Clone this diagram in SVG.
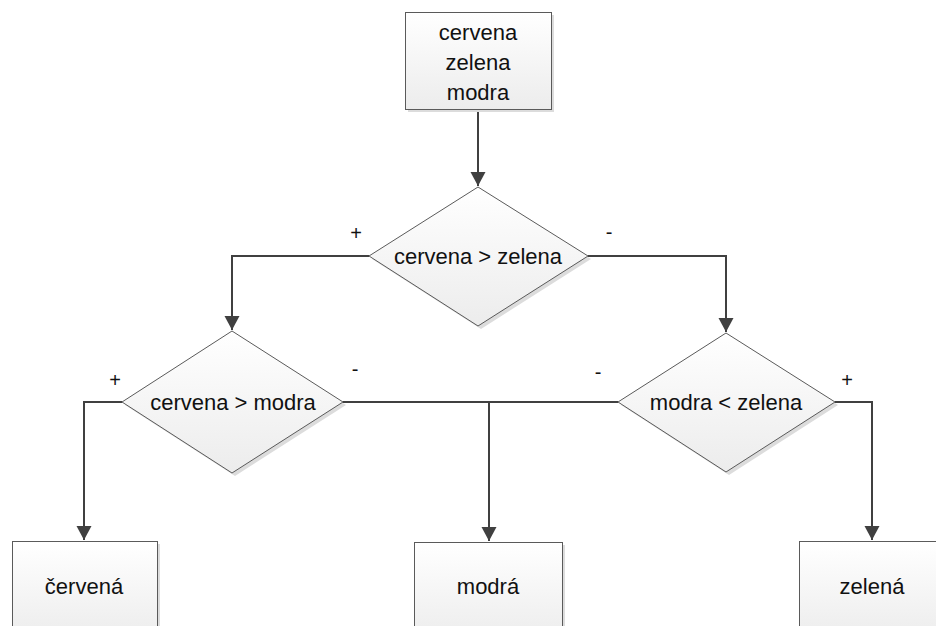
<svg xmlns="http://www.w3.org/2000/svg" width="936" height="626" viewBox="0 0 936 626">
  <style>
    .shape { stroke: #5a5a5a; stroke-width: 1; fill: url(#fillGrad); }
    .shadow { fill: #dcdcdc; stroke: none; }
    .label { font-family: "Liberation Sans", Arial, sans-serif; font-size: 22px; fill: #111; text-anchor: middle; }
    .sign { font-family: "Liberation Sans", Arial, sans-serif; font-size: 20px; fill: #111; text-anchor: middle; }
    .conn { fill: none; stroke: #404040; stroke-width: 2; }
  </style>
  <defs>
    <linearGradient id="fillGrad" x1="0" y1="0" x2="0" y2="1">
      <stop offset="0" stop-color="#ffffff"/>
      <stop offset="1" stop-color="#ececec"/>
    </linearGradient>
    <marker id="arrow" markerUnits="userSpaceOnUse" markerWidth="16" markerHeight="16" refX="14" refY="8" orient="auto">
      <path d="M0,0.5 L14,8 L0,15.5 Z" fill="#404040"/>
    </marker>
  </defs>

  <!-- connectors -->
  <g id="connectors">
    <path class="conn" d="M478,109 V186" marker-end="url(#arrow)"/>
    <path class="conn" d="M369,256 H232 V330" marker-end="url(#arrow)"/>
    <path class="conn" d="M588,256 H726 V332" marker-end="url(#arrow)"/>
    <path class="conn" d="M122,402 H84 V540" marker-end="url(#arrow)"/>
    <path class="conn" d="M343,402 H489 V541" marker-end="url(#arrow)"/>
    <path class="conn" d="M618,402 H489"/>
    <path class="conn" d="M835,402 H872 V540" marker-end="url(#arrow)"/>
  </g>

  <!-- input box -->
  <g id="input">
    <rect class="shadow" x="408" y="15" width="146" height="97"/>
    <rect class="shape" x="405.5" y="12.5" width="146" height="97"/>
    <text class="label" x="478" y="40">cervena</text>
    <text class="label" x="478" y="70">zelena</text>
    <text class="label" x="478" y="100">modra</text>
  </g>

  <!-- decision: cervena > zelena -->
  <g id="decision1">
    <polygon class="shadow" points="481,190 591,259 481,329 372,259"/>
    <polygon class="shape" points="478,187 588,256 478,326 369,256"/>
    <text class="label" x="478" y="264">cervena &gt; zelena</text>
    <text class="sign" x="356" y="240">+</text>
    <text class="sign" x="609" y="239">-</text>
  </g>

  <!-- decision: cervena > modra -->
  <g id="decision2">
    <polygon class="shadow" points="235,334 346,405 235,476 125,405"/>
    <polygon class="shape" points="232,331 343,402 232,473 122,402"/>
    <text class="label" x="233" y="410">cervena &gt; modra</text>
    <text class="sign" x="115" y="387">+</text>
    <text class="sign" x="355" y="376">-</text>
  </g>

  <!-- decision: modra < zelena -->
  <g id="decision3">
    <polygon class="shadow" points="729,336 838,405 729,475 621,405"/>
    <polygon class="shape" points="726,333 835,402 726,472 618,402"/>
    <text class="label" x="726" y="410">modra &lt; zelena</text>
    <text class="sign" x="598" y="379">-</text>
    <text class="sign" x="847" y="387">+</text>
  </g>

  <!-- results -->
  <g id="result-cervena">
    <rect class="shadow" x="15" y="544" width="145" height="100"/>
    <rect class="shape" x="12.5" y="541.5" width="145" height="100"/>
    <text class="label" x="84" y="594">červená</text>
  </g>
  <g id="result-modra">
    <rect class="shadow" x="417" y="545" width="148" height="100"/>
    <rect class="shape" x="414.5" y="542.5" width="148" height="100"/>
    <text class="label" x="488" y="594">modrá</text>
  </g>
  <g id="result-zelena">
    <rect class="shadow" x="803" y="544" width="145" height="100"/>
    <rect class="shape" x="799.5" y="541.5" width="145" height="100"/>
    <text class="label" x="872" y="594">zelená</text>
  </g>
</svg>
